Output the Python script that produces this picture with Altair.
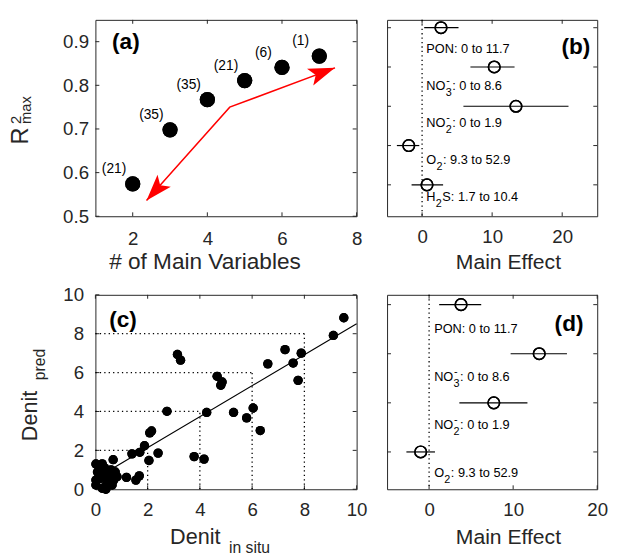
import math
import altair as alt
import pandas as pd

FONT = "Liberation Sans"
INK = "#262626"

# ---------------- data ----------------
# (a) best R^2 for number of main variables
a_nvars = [2, 3, 4, 5, 6, 7]
a_r2max = [0.574, 0.698, 0.767, 0.811, 0.841, 0.867]
a_counts = ["(21)", "(35)", "(35)", "(21)", "(6)", "(1)"]
a_arrow_x = [7.42, 4.6, 2.37]
a_arrow_y = [0.84, 0.75, 0.536]
a_xticks = [2, 4, 6, 8]
a_yticks = [0.5, 0.6, 0.7, 0.8, 0.9]

# (b) main effects, 5 variables
b_vars = ["PON", "NO3", "NO2", "O2", "H2S"]
b_rank = [5, 4, 3, 2, 1]
b_effect = [2.7, 10.3, 13.4, -1.9, 0.7]
b_low = [0.3, 6.9, 5.9, -3.6, -1.5]
b_high = [5.2, 13.2, 20.9, -0.4, 3.0]
b_xticks = [0, 10, 20]

# (d) main effects, 4 variables
d_vars = ["PON", "NO3", "NO2", "O2"]
d_rank = [4, 3, 2, 1]
d_effect = [3.8, 13.1, 7.7, -1.0]
d_low = [1.2, 9.7, 3.6, -2.7]
d_high = [6.2, 16.4, 11.7, 0.7]
d_xticks = [0, 10, 20]

# label pieces: base, subscript, superscript, rest
var_label = {
    "PON": ("PON: 0 to 11.7", "", "", ""),
    "NO3": ("NO", "3", "-", ": 0 to 8.6"),
    "NO2": ("NO", "2", "-", ": 0 to 1.9"),
    "O2": ("O", "2", "", ": 9.3 to 52.9"),
    "H2S": ("H", "2", "", "S: 1.7 to 10.4"),
}
ref_zero = [0]

# (c) predicted vs in situ denitrification
c_insitu = [9.51, 9.11, 7.26, 7.88, 7.57, 7.76, 6.6, 5.29, 5.79, 6.04, 6.31,
            3.14, 3.26, 4.66, 4.85, 4.8, 4.26, 2.74, 3.78, 4.16, 2.15, 2.08,
            1.88, 1.7, 1.4, 2.4, 2.05, 1.19, 1.55, 1.68, 0.68,
            0.02, 0.26, 0.08, 0.33, 0.51, 0.76, 0.2, 0.45, 0.02, 0.7, 0.26,
            0.02, 0.64, 0.39, 0.14, 0.83, 0.4, 0.55, 0.35, 0.6]
c_pred = [8.82, 7.91, 7.18, 7.0, 6.49, 5.6, 6.45, 3.95, 3.67, 4.18, 3.02,
          6.93, 6.64, 5.81, 5.52, 5.35, 3.95, 4.01, 1.68, 1.55, 3.0, 2.9,
          2.24, 1.9, 1.82, 1.86, 1.48, 0.61, 0.47, 0.69, 1.52,
          1.3, 1.31, 0.89, 0.89, 0.72, 0.89, 0.56, 0.39, 0.47, 0.47, 0.05,
          0.22, 0.22, 0.14, 0.98, 0.64, 0.0, 0.6, 1.1, 1.0]
c_fit_x = [0.3, 10.0]
c_fit_y = [0.79, 8.51]
c_guides = [2, 4, 6, 8]
c_ticks = [0, 2, 4, 6, 8, 10]

# text
title_a_x = "# of Main Variables"
title_a_y = ["R", "2", "max"]
title_c_x = ["Denit", "in situ"]
title_c_y = ["Denit", "pred"]
title_effect = "Main Effect"
panel_tags = ["(a)", "(b)", "(c)", "(d)"]

# ---------------- helpers ----------------
W1, W2 = 266, 214
H1, H2 = 200, 198
TICK = 4
LAB = 19
TAG = 23

ARIAL = {c: 556 for c in "0123456789"}
ARIAL.update({"N": 722, "O": 778, "H": 722, "P": 667, "S": 667, ":": 278,
              " ": 278, "-": 333, "t": 278, "o": 556, ".": 278})


def twidth(s, size):
    return sum(ARIAL.get(ch, 556) for ch in s) * size / 1000.0


def axis(values, pad, fmt):
    return alt.Axis(values=values, title=None, domain=False, ticks=False,
                    tickSize=0, grid=False, labelFont=FONT, labelFontSize=LAB,
                    labelColor=INK, labelPadding=pad, labelFlush=False,
                    labelOverlap=False, format=fmt)


def inward_ticks(xvals, yvals, X, Y, W, H):
    """X, Y: functions field -> encoding with the panel's scale and axis."""
    tx = pd.DataFrame({"t": xvals})
    ty = pd.DataFrame({"t": yvals})
    st = dict(color=INK, strokeWidth=1)
    out = []
    out.append(alt.Chart(tx).mark_rule(**st).encode(x=X("t"), y=alt.value(H), y2=alt.value(H - TICK)))
    out.append(alt.Chart(tx).mark_rule(**st).encode(x=X("t"), y=alt.value(0), y2=alt.value(TICK)))
    out.append(alt.Chart(ty).mark_rule(**st).encode(y=Y("t"), x=alt.value(0), x2=alt.value(TICK)))
    out.append(alt.Chart(ty).mark_rule(**st).encode(y=Y("t"), x=alt.value(W), x2=alt.value(W - TICK)))
    return out


def ptext(s, x, y, size, angle=0, bold=False, align="left"):
    kw = dict(font=FONT, fontSize=size, color=INK if not bold else "black",
              align=align, baseline="alphabetic")
    if angle:
        kw["angle"] = angle
    if bold:
        kw["fontWeight"] = "bold"
    return alt.Chart(pd.DataFrame({"s": [s]})).mark_text(**kw).encode(
        text="s:N", x=alt.value(x), y=alt.value(y))


# ---------------- panel (a) ----------------
A_XD = [1, 8]
A_YD = [0.5, 0.95]
xa = alt.Scale(domain=A_XD, nice=False, zero=False)
ya = alt.Scale(domain=A_YD, nice=False, zero=False)
ax_a = axis(a_xticks, 14, "d")
ay_a = axis(a_yticks, 7, ".1f")


def XA(f):
    return alt.X(f + ":Q", scale=xa, axis=ax_a)


def YA(f):
    return alt.Y(f + ":Q", scale=ya, axis=ay_a)


dfa = pd.DataFrame({"n": a_nvars, "r2": a_r2max, "lab": a_counts})
pts_a = alt.Chart(dfa).mark_circle(size=240, color="black", opacity=1).encode(x=XA("n"), y=YA("r2"))
lab_a = alt.Chart(dfa).mark_text(font=FONT, fontSize=14, color="black", dx=-19, dy=-15).encode(
    x=XA("n"), y=YA("r2"), text="lab:N")
dfarrow = pd.DataFrame({"x": a_arrow_x, "y": a_arrow_y, "o": list(range(len(a_arrow_x)))})
arrow_line = alt.Chart(dfarrow).mark_line(color="red", strokeWidth=1.5).encode(
    x=XA("x"), y=YA("y"), order=alt.Order("o:Q"))
pxu = W1 / (A_XD[1] - A_XD[0])
pyu = H1 / (A_YD[1] - A_YD[0])
HEAD = "M 0 0 L -2 -0.67 L -1.55 0 L -2 0.67 Z"
heads = []
for tip in (0, 2):
    ddx = (a_arrow_x[tip] - a_arrow_x[1]) * pxu
    ddy = -(a_arrow_y[tip] - a_arrow_y[1]) * pyu
    ang = math.degrees(math.atan2(ddy, ddx)) % 360
    hdf = pd.DataFrame({"x": [a_arrow_x[tip]], "y": [a_arrow_y[tip]]})
    heads.append(alt.Chart(hdf).mark_point(
        shape=HEAD, filled=True, color="red", opacity=1, size=729, angle=ang).encode(
        x=XA("x"), y=YA("y")))
panel_a = alt.layer(
    pts_a, *inward_ticks(a_xticks, a_yticks, XA, YA, W1, H1), arrow_line, *heads, pts_a, lab_a,
    ptext(title_a_x, 14, 254, 23),
    ptext(title_a_y[0], -69, 127, 24, angle=270),
    ptext(title_a_y[1], -76, 106, 15, angle=270),
    ptext(title_a_y[2], -66, 106, 15, angle=270),
    ptext(panel_tags[0], 17, 30, TAG, bold=True),
).properties(width=W1, height=H1)


# ---------------- forest panels (b), (d) ----------------
MAIN, SUBSZ, SUBDY, SUPDY = 13, 11, 6, -6


def forest(vars_, rank, eff, lo, hi, xdom, ydom, xticks, W, H, dy0, dystep, tag, tag_x, tag_y):
    xs = alt.Scale(domain=xdom, nice=False, zero=False)
    ys = alt.Scale(domain=ydom, nice=False, zero=False)
    axx = axis(xticks, 12, "d")

    def X(f):
        return alt.X(f + ":Q", scale=xs, axis=axx)

    def Y(f):
        return alt.Y(f + ":Q", scale=ys, axis=None)

    df = pd.DataFrame({"v": vars_, "r": rank, "e": eff, "lo": lo, "hi": hi})
    zero = alt.Chart(pd.DataFrame({"z": ref_zero})).mark_rule(
        color="black", strokeWidth=1.3, strokeDash=[1.3, 3.2]).encode(x=X("z"))
    bars = alt.Chart(df).mark_rule(color="black", strokeWidth=1.2).encode(
        x=X("lo"), x2=alt.X2("hi:Q"), y=Y("r"))
    circ = alt.Chart(df).mark_point(shape="circle", filled=False, color="black",
                                    size=140, strokeWidth=1.5, opacity=1).encode(x=X("e"), y=Y("r"))
    rows = []
    for k, (v, r) in enumerate(zip(vars_, rank)):
        base, sub, sup, rest = var_label[v]
        ldy = round(dy0 - dystep * k, 1)
        wb = twidth(base, MAIN)
        rows.append((r, base, 0.0, ldy, MAIN))
        ws = 0.0
        if sub:
            rows.append((r, sub, wb + 0.3, ldy + SUBDY, SUBSZ))
            ws = twidth(sub, SUBSZ)
        if sup:
            rows.append((r, sup, wb + 0.8, ldy + SUPDY, SUBSZ))
            ws = max(ws, twidth(sup, SUBSZ))
        if rest:
            rows.append((r, rest, wb + ws + 0.8, ldy, MAIN))
    groups = {}
    for r, s, dxx, dyy, sz in rows:
        groups.setdefault((round(dxx, 2), dyy, sz), []).append((r, s))
    texts = []
    for (dxx, dyy, sz), items in groups.items():
        tdf = pd.DataFrame({"r": [i[0] for i in items], "s": [i[1] for i in items]})
        texts.append(alt.Chart(tdf).transform_calculate(lx="0.6").mark_text(
            font=FONT, fontSize=sz, color="black", align="left", baseline="alphabetic",
            dx=dxx, dy=dyy).encode(x=X("lx"), y=Y("r"), text="s:N"))
    return alt.layer(
        circ, *inward_ticks(xticks, rank, X, Y, W, H), zero, bars, circ, *texts,
        ptext(title_effect, 70, 254, 21.5),
        ptext(tag, tag_x, tag_y, TAG, bold=True, align="right"),
    ).properties(width=W, height=H)


panel_b = forest(b_vars, b_rank, b_effect, b_low, b_high, [-5, 25], [0.2, 5.2],
                 b_xticks, W2, H1, 26, 2.4, panel_tags[1], 207, 35)
panel_d = forest(d_vars, d_rank, d_effect, d_low, d_high, [-5, 20], [0.24, 4.2],
                 d_xticks, W2, H2, 29, 1.0, panel_tags[3], 200, 37)

# ---------------- panel (c) ----------------
xc = alt.Scale(domain=[0, 10], nice=False, zero=False)
yc = alt.Scale(domain=[0, 10], nice=False, zero=False)
ax_c = axis(c_ticks, 12, "d")
ay_c = axis(c_ticks, 12, "d")


def XC(f):
    return alt.X(f + ":Q", scale=xc, axis=ax_c)


def YC(f):
    return alt.Y(f + ":Q", scale=yc, axis=ay_c)


dfc = pd.DataFrame({"obs": c_insitu, "pred": c_pred})
pts_c = alt.Chart(dfc).mark_circle(size=90, color="black", opacity=1).encode(x=XC("obs"), y=YC("pred"))
fit = alt.Chart(pd.DataFrame({"x": c_fit_x, "y": c_fit_y})).mark_line(
    color="black", strokeWidth=1.2).encode(x=XC("x"), y=YC("y"))
dg = pd.DataFrame({"g": c_guides})
dot = dict(color="black", strokeWidth=1.3, strokeDash=[1.3, 3.2])
hguide = alt.Chart(dg).transform_calculate(z="0").mark_rule(**dot).encode(
    x=XC("z"), x2=alt.X2("g:Q"), y=YC("g"))
vguide = alt.Chart(dg).transform_calculate(z="0").mark_rule(**dot).encode(
    y=YC("z"), y2=alt.Y2("g:Q"), x=XC("g"))
panel_c = alt.layer(
    pts_c, *inward_ticks(c_ticks, c_ticks, XC, YC, W1, H2), hguide, vguide, fit, pts_c,
    ptext(title_c_x[0], 76, 254, 22),
    ptext(title_c_x[1], 136, 263, 16),
    ptext(title_c_y[0], -59, 149, 22, angle=270),
    ptext(title_c_y[1], -51, 87, 16, angle=270),
    ptext(panel_tags[2], 14, 33, TAG, bold=True),
).properties(width=W1, height=H2)

chart = alt.concat(panel_a, panel_b, panel_c, panel_d, columns=2,
                   spacing={"row": 80, "column": 31}, bounds="flush").properties(
    padding={"left": 0, "top": 5, "right": 0, "bottom": 0}
).configure(font=FONT).configure_view(stroke=INK, strokeWidth=1)

chart.save("out.html", embed_options={"renderer": "svg", "actions": False})
